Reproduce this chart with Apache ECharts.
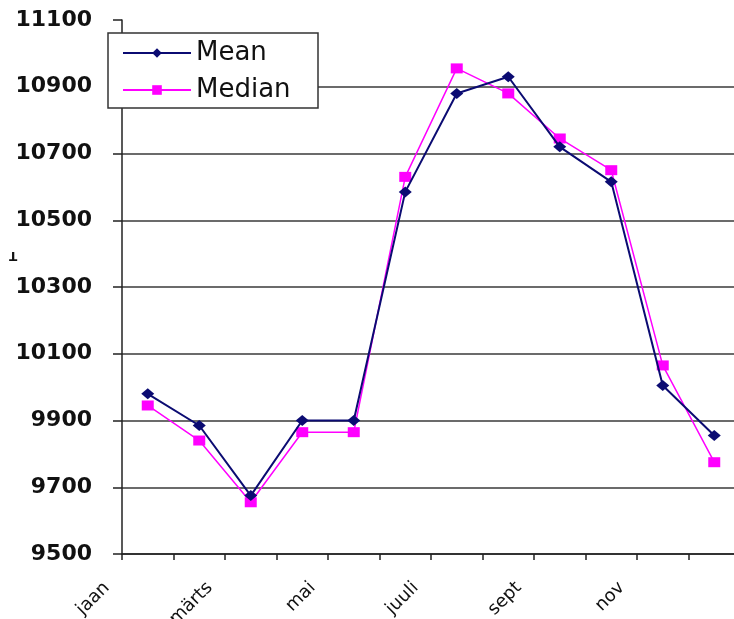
<!DOCTYPE html>
<html>
<head>
<meta charset="utf-8">
<script src="https://cdn.jsdelivr.net/npm/echarts@6/dist/echarts.min.js"></script>
<style>
  html, body { margin: 0; padding: 0; background: #fff; }
  #chart { width: 734px; height: 619px; }
</style>
</head>
<body>
<div id="chart"></div>
<script>
// Monthly values, Estonian month names
var months = ['jaan', 'veebr', 'märts', 'apr', 'mai', 'juuni', 'juuli', 'aug', 'sept', 'okt', 'nov', 'dets'];
var meanValues = [9980, 9885, 9675, 9900, 9900, 10585, 10880, 10930, 10720, 10615, 10005, 9855];
var medianValues = [9945, 9840, 9655, 9865, 9865, 10630, 10955, 10880, 10745, 10650, 10065, 9775];
var yMin = 9500, yMax = 11100, yStep = 200;

var chart = echarts.init(document.getElementById('chart'), null, { renderer: 'canvas' });

// split line colours: hide the line at the top of the scale
var splitColors = [];
for (var v = yMin; v <= yMax; v += yStep) {
  splitColors.push(v === yMax ? 'rgba(0,0,0,0)' : '#3a3a3a');
}

chart.setOption({
  animation: false,
  backgroundColor: '#ffffff',
  grid: { left: 122, top: 20, bottom: 65, width: 618, containLabel: false, outerBoundsMode: 'none' },
  legend: {
    orient: 'vertical',
    left: 108,
    top: 33,
    padding: [5, 10, 3, 14],
    itemWidth: 68,
    itemHeight: 12,
    itemGap: 7,
    backgroundColor: '#ffffff',
    borderColor: '#333333',
    borderWidth: 1.5,
    borderRadius: 0,
    textStyle: {
      fontFamily: 'DejaVu Sans',
      fontSize: 26,
      lineHeight: 30,
      color: '#111111',
      width: 112
    },
    data: ['Mean', 'Median']
  },
  xAxis: {
    type: 'category',
    data: months,
    boundaryGap: true,
    axisLine: { lineStyle: { color: '#222222', width: 1.5 } },
    axisTick: { show: true, interval: 0, length: 6, lineStyle: { color: '#222222', width: 1.5 } },
    axisLabel: {
      interval: 1,
      rotate: 45,
      margin: -10,
      padding: [0, 58, 61, 0],
      fontFamily: 'DejaVu Sans',
      fontSize: 18,
      color: '#111111'
    },
    splitLine: { show: false }
  },
  yAxis: {
    type: 'value',
    min: yMin,
    max: yMax,
    interval: yStep,
    axisLine: { show: true, lineStyle: { color: '#222222', width: 1.5 } },
    axisTick: { show: true, inside: false, length: 9, lineStyle: { color: '#222222', width: 1.5 } },
    axisLabel: {
      margin: 30,
      fontFamily: 'DejaVu Sans',
      fontWeight: 'bold',
      fontSize: 22,
      color: '#111111',
      formatter: function (val) { return String(val); }
    },
    splitLine: { show: true, lineStyle: { color: splitColors, width: 1.5 } }
  },
  graphic: [{
    type: 'text',
    left: 9,
    top: 249,
    rotation: Math.PI,
    originX: 0,
    originY: 0,
    style: { text: 'T', font: 'bold 12px "DejaVu Sans"', fill: '#111111' }
  }],
  series: [
    {
      name: 'Mean',
      type: 'line',
      data: meanValues,
      symbol: 'diamond',
      symbolSize: [13, 11],
      z: 3,
      lineStyle: { color: '#0b0b72', width: 2 },
      itemStyle: { color: '#0b0b72', borderWidth: 0 }
    },
    {
      name: 'Median',
      type: 'line',
      data: medianValues,
      symbol: 'rect',
      symbolSize: [12, 10],
      z: 2,
      lineStyle: { color: '#ff00ff', width: 1.5 },
      itemStyle: { color: '#ff00ff', borderWidth: 0 }
    }
  ]
});
</script>
</body>
</html>
